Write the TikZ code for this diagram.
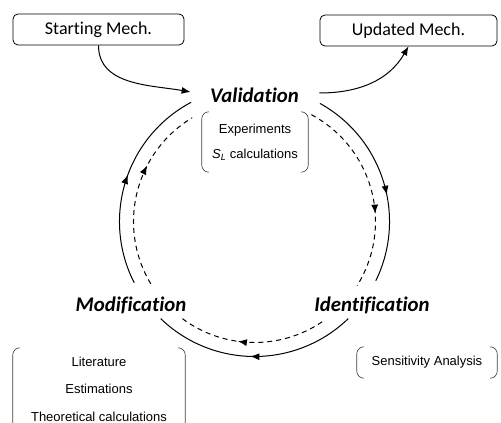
\documentclass[tikz,border=0pt]{standalone}
\usepackage{fontspec}
\setmainfont{Liberation Sans}
\newfontfamily\carl[Ligatures={NoCommon,NoDiscretionary,NoContextual}]{Carlito}
\usetikzlibrary{arrows.meta,decorations.markings,calc}
\newcommand\bracketsof[1]{%
  \draw[brkline] ([xshift=7pt]#1.north west) -- (#1.north west) -- (#1.south west) -- ([xshift=7pt]#1.south west);
  \draw[brkline] ([xshift=-7pt]#1.north east) -- (#1.north east) -- (#1.south east) -- ([xshift=-7pt]#1.south east);}
\begin{document}
\begin{tikzpicture}[x=1pt,y=1pt,
  mech/.style={draw, rounded corners=5pt, line width=0.8pt, minimum height=31pt, inner sep=0pt,
    font=\carl\fontsize{18}{20}\selectfont},
  stage/.style={font=\carl\bfseries\itshape\fontsize{20.8}{24}\selectfont},
  brbox/.style={align=center, inner sep=0pt, font=\fontsize{13}{25}\selectfont},
  brkline/.style={rounded corners=7pt, line width=0.65pt, black!75},
  flow/.style={line width=1pt},
  tipend/.style={-{Latex[length=9pt,width=7pt]}},
  dsh/.style={dash pattern=on 5pt off 4pt},
  midarrow/.style={postaction={decorate}, decoration={markings,
    mark=at position #1 with {\arrow{Latex[length=9pt,width=7pt]}}}},
]
\clip (0,0) rectangle (501,423);
\useasboundingbox (0,0) rectangle (501,423);

% boxes
\node[mech, minimum width=171pt] (start) at (98.5,393.5) {Starting Mech.};
\node[mech, minimum width=177pt] (upd) at (408.5,392.5) {Updated Mech.};

% stage labels
\node[stage] (val) at (254.5,328) {Validation};
\node[stage] (ide) at (372,118) {Identification};
\node[stage] (mod) at (131,118) {Modification};

% bracket boxes
\node[brbox, minimum width=106pt, minimum height=60pt] (exp) at (255,281)
  {Experiments\\\textit{S}\textsubscript{\textit{L}} calculations};
\node[brbox, minimum width=172pt, minimum height=82pt, font=\fontsize{13}{27.5}\selectfont] (lit) at (99,34)
  {Literature\\Estimations\\Theoretical calculations};
\node[brbox, minimum width=140pt, minimum height=31pt] (sen) at (427,60.5) {Sensitivity Analysis};
\bracketsof{exp}
\bracketsof{lit}
\bracketsof{sen}

% in/out arrows
\draw[flow, tipend] (start.south) to[out=-90, in=170] ([xshift=-16pt, yshift=3pt]val.west);
\draw[flow, tipend] ([xshift=17pt, yshift=2pt]val.east) to[out=0, in=-120] (upd.south);

% cycle
\coordinate (C) at (254.5,201.5);
\coordinate (sL) at ($(C)+(207:135)$);
\coordinate (sR) at ($(C)+(61:135)$);
\coordinate (sB) at ($(C)+(-46:135)$);
\coordinate (dL) at ($(C)+(211:121)$);
\coordinate (dR) at ($(C)+(62:121)$);
\coordinate (dB) at ($(C)+(-56:121)$);

\draw[flow, midarrow=0.53] (sL) arc[start angle=207, end angle=118, radius=135];
\draw[flow, midarrow=0.57] (sR) arc[start angle=61, end angle=-26, radius=135];
\draw[flow, midarrow=0.52] (sB) arc[start angle=-46, end angle=-134, radius=135];

\draw[flow, dsh, midarrow=0.65] (dL) arc[start angle=211, end angle=121, radius=121];
\draw[flow, dsh, midarrow=0.62] (dR) arc[start angle=62, end angle=-32, radius=121];
\draw[flow, dsh, midarrow=0.59] (dB) arc[start angle=-56, end angle=-127, radius=121];
\end{tikzpicture}
\end{document}
